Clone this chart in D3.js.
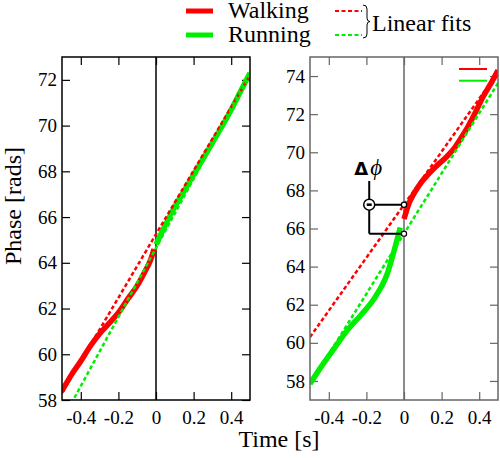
<!DOCTYPE html>
<html>
<head>
<meta charset="utf-8">
<script src="https://cdn.jsdelivr.net/npm/d3@7"></script>
<style>
  body { margin: 0; background: #fff; }
  svg, svg text { font-family: "Liberation Serif", "Times New Roman", serif; }
</style>
</head>
<body>
<svg id="chart" width="500" height="458"></svg>
<script>
// ---- data (time [s], phase [rads]) ----
var xTicks = [-0.4, -0.2, 0, 0.2, 0.4];
var leftYTicks = [58, 60, 62, 64, 66, 68, 70, 72];
var rightYTicks = [58, 60, 62, 64, 66, 68, 70, 72, 74];

var leftWalking = [[-0.5,58.4],[-0.45,59.1],[-0.4,59.7],[-0.35,60.35],[-0.3,60.9],[-0.25,61.35],
  [-0.2,61.82],[-0.15,62.42],[-0.1,63.0],[-0.06,63.6],[-0.03,64.1],[-0.01,64.6]];
var leftRunning = [[0,64.8],[0.05,65.65],[0.1,66.45],[0.15,67.15],[0.2,67.85],[0.25,68.55],
  [0.3,69.25],[0.35,69.95],[0.4,70.7],[0.45,71.5],[0.5,72.3]];
var leftWalkingFit = [[-0.5,58.3],[0.5,72.2]];
var leftRunningFit = [[-0.5,57.1],[0.5,72.2]];

var rightWalking = [[0,66.5],[0.03,67.4],[0.06,67.95],[0.09,68.4],[0.13,68.85],[0.17,69.25],
  [0.23,69.8],[0.27,70.25],[0.3,70.7],[0.335,71.25],[0.37,71.9],[0.42,72.9],[0.47,73.75],[0.5,74.3]];
var rightRunning = [[-0.5,57.85],[-0.44,58.75],[-0.37,59.72],[-0.3,60.68],[-0.23,61.45],[-0.16,62.3],
  [-0.12,62.95],[-0.09,63.6],[-0.065,64.4],[-0.04,65.3],[-0.02,66.05]];
var rightWalkingFit = [[-0.5,60.3],[0.5,74.2]];
var rightRunningFit = [[-0.5,57.83],[0.5,73.63]];

var RED = "#ff0000", GREEN = "#00ee00";
var SERIF = "'Liberation Serif', 'Times New Roman', serif";

var svg = d3.select("#chart");
var top_ = 57, bottom = 400;

var panels = [
  {id: "L", x0: 62, x1: 250, ydom: [58, 73], yticks: leftYTicks, frame: "#000",
   walk: leftWalking, run: leftRunning, walkFit: leftWalkingFit, runFit: leftRunningFit},
  {id: "R", x0: 310, x1: 498, ydom: [57, 75], yticks: rightYTicks, frame: "#666",
   walk: rightWalking, run: rightRunning, walkFit: rightWalkingFit, runFit: rightRunningFit}
];

var fmtX = d => d === 0 ? "0" : d.toFixed(1);

panels.forEach(function(p) {
  var x = d3.scaleLinear().domain([-0.5, 0.5]).range([p.x0, p.x1]);
  var y = d3.scaleLinear().domain(p.ydom).range([bottom, top_]);
  p.x = x; p.y = y;

  svg.append("clipPath").attr("id", "clip" + p.id)
    .append("rect").attr("x", p.x0).attr("y", top_)
    .attr("width", p.x1 - p.x0).attr("height", bottom - top_);

  // axes with inward ticks on all four sides
  var ax = [
    svg.append("g").attr("transform", "translate(0," + bottom + ")")
      .call(d3.axisBottom(x).tickValues(xTicks).tickFormat(fmtX).tickSizeInner(-8).tickSizeOuter(0).tickPadding(11)),
    svg.append("g").attr("transform", "translate(0," + top_ + ")")
      .call(d3.axisTop(x).tickValues(xTicks).tickFormat("").tickSizeInner(-8).tickSizeOuter(0)),
    svg.append("g").attr("transform", "translate(" + p.x0 + ",0)")
      .call(d3.axisLeft(y).tickValues(p.yticks).tickSizeInner(-8).tickSizeOuter(0).tickPadding(5)),
    svg.append("g").attr("transform", "translate(" + p.x1 + ",0)")
      .call(d3.axisRight(y).tickValues(p.yticks).tickFormat("").tickSizeInner(-8).tickSizeOuter(0))
  ];
  ax.forEach(function(a) {
    a.select(".domain").remove();
    a.attr("font-family", null).style("font-family", SERIF);
    a.selectAll("line").attr("stroke", p.frame).attr("stroke-width", 1.2);
    a.selectAll("text").attr("fill", "#000")
      .style("font-family", SERIF).style("font-size", "19px");
  });

  // zero line
  svg.append("line")
    .attr("x1", x(0)).attr("x2", x(0)).attr("y1", top_).attr("y2", bottom)
    .attr("stroke", p.frame).attr("stroke-width", 1.5);

  var g = svg.append("g").attr("clip-path", "url(#clip" + p.id + ")");
  var line = d3.line().x(d => x(d[0])).y(d => y(d[1])).curve(d3.curveMonotoneX);

  g.append("path").datum(p.walk).attr("d", line)
    .attr("fill", "none").attr("stroke", RED).attr("stroke-width", 5.5)
    .attr("stroke-linejoin", "round");
  g.append("path").datum(p.run).attr("d", line)
    .attr("fill", "none").attr("stroke", GREEN).attr("stroke-width", 5.5)
    .attr("stroke-linejoin", "round");
  g.append("path").datum(p.walkFit).attr("d", line)
    .attr("fill", "none").attr("stroke", RED).attr("stroke-width", 2.5)
    .attr("stroke-dasharray", "4,2.5");
  g.append("path").datum(p.runFit).attr("d", line)
    .attr("fill", "none").attr("stroke", GREEN).attr("stroke-width", 2.5)
    .attr("stroke-dasharray", "4,2.5");

  // frame
  svg.append("rect")
    .attr("x", p.x0).attr("y", top_).attr("width", p.x1 - p.x0).attr("height", bottom - top_)
    .attr("fill", "none").attr("stroke", p.frame).attr("stroke-width", 1.5);
});

// small key lines in right panel corner
var R = panels[1];
[[RED, 69], [GREEN, 80.7]].forEach(function(k) {
  svg.append("line").attr("x1", 459).attr("x2", 487).attr("y1", k[1]).attr("y2", k[1])
    .attr("stroke", k[0]).attr("stroke-width", 2);
});

// delta-phi annotation on right panel
var fitAt = (f, t) => f[0][1] + (f[1][1] - f[0][1]) * (t - f[0][0]) / (f[1][0] - f[0][0]);
var yUp = R.y(fitAt(rightWalkingFit, 0));
var yLo = R.y(fitAt(rightRunningFit, 0));
var xb = R.x(-0.185), x0 = R.x(0);
var ann = svg.append("g").attr("stroke", "#000").attr("stroke-width", 2).attr("fill", "none");
ann.append("line").attr("x1", xb).attr("x2", xb).attr("y1", 181).attr("y2", yLo);
ann.append("line").attr("x1", xb).attr("x2", x0).attr("y1", yUp).attr("y2", yUp);
ann.append("line").attr("x1", xb).attr("x2", x0).attr("y1", yLo).attr("y2", yLo);
ann.append("circle").attr("cx", xb).attr("cy", yUp).attr("r", 5.5).attr("fill", "#fff").attr("stroke-width", 1.5);
ann.append("line").attr("x1", xb - 2.5).attr("x2", xb + 2.5).attr("y1", yUp).attr("y2", yUp).attr("stroke-width", 2.5);
[yUp, yLo].forEach(function(yy) {
  ann.append("circle").attr("cx", x0).attr("cy", yy).attr("r", 2.6).attr("fill", "#fff").attr("stroke-width", 1.2);
});
var dt = svg.append("text").attr("x", xb - 1).attr("y", 175).attr("text-anchor", "middle")
  .style("font-size", "23px");
dt.append("tspan").style("font-weight", "bold").style("font-family", "'DejaVu Sans', sans-serif")
  .style("font-size", "18px").text("\u0394");
dt.append("tspan").style("font-style", "italic").attr("dx", 2).text("\u03D5");

// axis titles
svg.append("text").attr("x", 279).attr("y", 447).attr("text-anchor", "middle")
  .style("font-size", "24px").text("Time [s]");
svg.append("text").attr("transform", "translate(21,206) rotate(-90)")
  .attr("text-anchor", "middle").style("font-size", "24px").text("Phase [rads]");

// legend
var leg = svg.append("g").style("font-size", "24px");
[["Walking", RED, 11, 18], ["Running", GREEN, 35, 41.5]].forEach(function(d) {
  leg.append("line").attr("x1", 186).attr("x2", 213).attr("y1", d[2]).attr("y2", d[2])
    .attr("stroke", d[1]).attr("stroke-width", 5);
  leg.append("text").attr("x", 228).attr("y", d[3]).text(d[0]);
  leg.append("line").attr("x1", 335).attr("x2", 362).attr("y1", d[2]).attr("y2", d[2])
    .attr("stroke", d[1]).attr("stroke-width", 2).attr("stroke-dasharray", "4,2.5");
});
leg.append("path")
  .attr("d", "M363,5 Q367,5 367,9 L367,18 Q367,21.5 370,21.5 Q367,21.5 367,25 L367,34 Q367,38 363,38")
  .attr("fill", "none").attr("stroke", "#000").attr("stroke-width", 1);
leg.append("text").attr("x", 372).attr("y", 30.5).text("Linear fits");
</script>
</body>
</html>
